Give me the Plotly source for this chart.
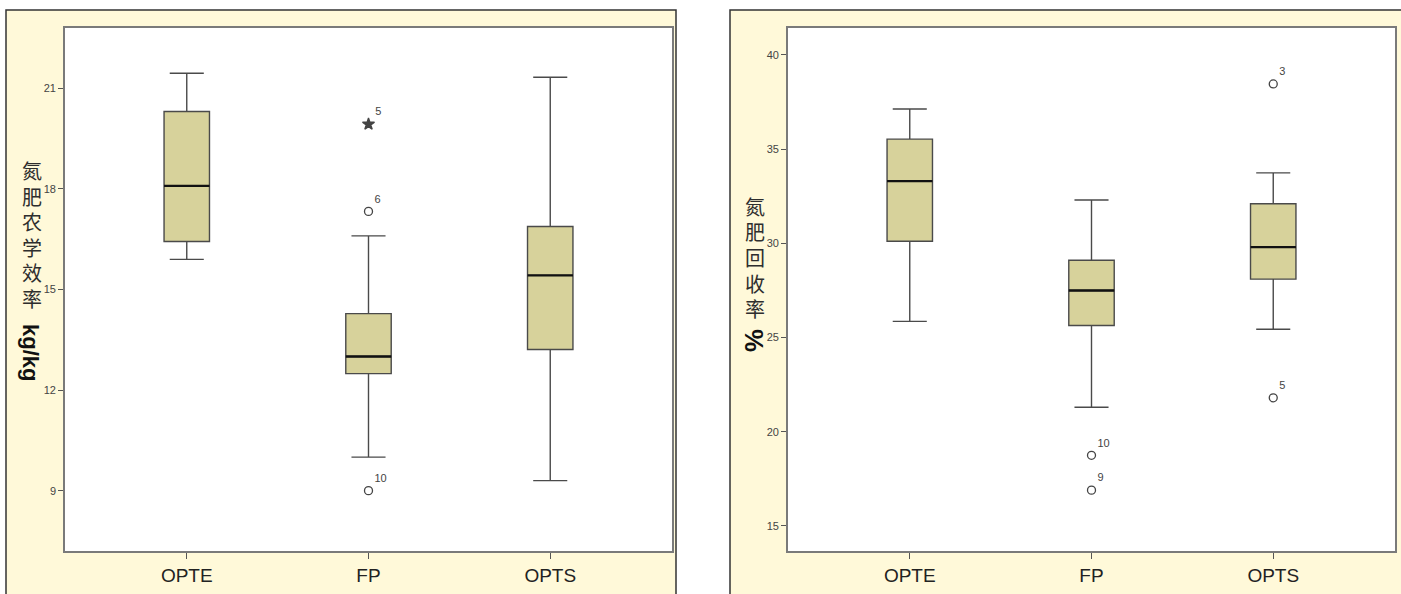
import plotly.graph_objects as go

W, H = 1401, 594

categories = ["OPTE", "FP", "OPTS"]

# Left chart: 氮肥农学效率 kg/kg
ae_lower = [15.9, 10.0, 9.3]
ae_q1 = [16.43, 12.49, 13.21]
ae_median = [18.09, 13.0, 15.42]
ae_q3 = [20.31, 14.28, 16.88]
ae_upper = [21.45, 16.6, 21.33]
ae_out_cat = [1, 1]
ae_out_val = [17.33, 9.0]
ae_out_lab = ["6", "10"]
ae_ext_cat = [1]
ae_ext_val = [19.93]
ae_ext_lab = ["5"]
ae_ticks = [9, 12, 15, 18, 21]
ae_title_cn = "氮肥农学效率"
ae_title_unit = "kg/kg"

# Right chart: 氮肥回收率 %
re_lower = [25.86, 21.3, 25.44]
re_q1 = [30.11, 25.64, 28.1]
re_median = [33.3, 27.5, 29.8]
re_q3 = [35.53, 29.1, 32.1]
re_upper = [37.13, 32.3, 33.74]
re_out_cat = [1, 1, 2, 2]
re_out_val = [18.75, 16.9, 38.46, 21.8]
re_out_lab = ["10", "9", "3", "5"]
re_ticks = [15, 20, 25, 30, 35, 40]
re_title_cn = "氮肥回收率"
re_title_unit = "%"

BOX_FILL = "#D7D29B"
BOX_LINE = "#4a4a4a"
BW = 0.25

fig = go.Figure()

def add_panel(xa, ya, lower, q1, med, q3, upper):
    xs = list(range(len(categories)))
    fig.add_trace(go.Box(
        x=xs, lowerfence=lower, q1=q1, median=med, q3=q3, upperfence=upper,
        fillcolor=BOX_FILL, line=dict(color=BOX_LINE, width=1.4),
        width=BW, whiskerwidth=0.75, boxpoints=False, showlegend=False,
        hoverinfo="skip", xaxis=xa, yaxis=ya,
    ))
    for i, m in enumerate(med):
        fig.add_trace(go.Scatter(
            x=[i - BW / 2, i + BW / 2], y=[m, m], mode="lines",
            line=dict(color="#111111", width=2.4), showlegend=False,
            hoverinfo="skip", xaxis=xa, yaxis=ya,
        ))

def add_points(xa, ya, cats, vals, labs, symbol):
    fig.add_trace(go.Scatter(
        x=cats, y=vals, mode="markers+text", text=labs,
        textposition="top right",
        textfont=dict(family="Liberation Sans, Arial", size=11, color="#444444"),
        marker=dict(symbol=symbol, size=8 if symbol == "circle-open" else 9,
                    color="#444444", line=dict(color="#444444", width=1.3)),
        showlegend=False, hoverinfo="skip", xaxis=xa, yaxis=ya,
    ))

add_panel("x", "y", ae_lower, ae_q1, ae_median, ae_q3, ae_upper)
add_points("x", "y", ae_out_cat, ae_out_val, ae_out_lab, "circle-open")
add_points("x", "y", ae_ext_cat, ae_ext_val, ae_ext_lab, "star")

add_panel("x2", "y2", re_lower, re_q1, re_median, re_q3, re_upper)
add_points("x2", "y2", re_out_cat, re_out_val, re_out_lab, "circle-open")

ydom = [1 - 551 / H, 1 - 28 / H]
xcommon = dict(
    tickmode="array", tickvals=[0, 1, 2], ticktext=categories,
    range=[-0.67, 2.67], showgrid=False, zeroline=False,
    showline=True, mirror=True, linecolor="#7a7a7a", linewidth=1.6,
    ticks="outside", ticklen=6, tickcolor="#555555",
    tickfont=dict(family="Liberation Sans, Arial", size=19, color="#222222"),
)
ycommon = dict(
    showgrid=False, zeroline=False,
    showline=True, mirror=True, linecolor="#7a7a7a", linewidth=1.6,
    ticks="outside", ticklen=5, tickcolor="#555555",
    tickfont=dict(family="Liberation Sans, Arial", size=11, color="#444444"),
    domain=ydom,
)

annotations = []
def vertical_title(cn, unit, xc, y_first, pitch, y_unit, unit_size):
    for k, ch in enumerate(cn):
        annotations.append(dict(
            xref="paper", yref="paper", x=xc / W, y=1 - (y_first + k * pitch) / H,
            xanchor="center", yanchor="middle", height=22,
            text=ch, showarrow=False,
            font=dict(family="Noto Sans CJK SC", size=20, color="#2e2e2e")))
    annotations.append(dict(
        xref="paper", yref="paper", x=(xc - 1) / W, y=1 - y_unit / H,
        xanchor="center", yanchor="middle",
        text="<b>" + unit + "</b>", textangle=90, showarrow=False,
        font=dict(family="Liberation Sans, Arial", size=unit_size, color="#111111")))

vertical_title(ae_title_cn, ae_title_unit, 32, 170, 25.6, 352, 22)
vertical_title(re_title_cn, re_title_unit, 755, 206, 25.5, 340, 26)

fig.update_layout(
    width=W, height=H,
    margin=dict(l=0, r=0, t=0, b=0),
    paper_bgcolor="white",
    plot_bgcolor="rgba(0,0,0,0)",
    xaxis=dict(domain=[65 / W, 672 / W], anchor="y", **xcommon),
    yaxis=dict(anchor="x", range=[7.2, 22.8], tickvals=ae_ticks, **ycommon),
    xaxis2=dict(domain=[788 / W, 1395 / W], anchor="y2", **xcommon),
    yaxis2=dict(anchor="x2", range=[13.67, 41.43], tickvals=re_ticks, **ycommon),
    shapes=[
        dict(type="rect", xref="paper", yref="paper", layer="below",
             x0=6 / W, x1=676 / W, y0=-0.02, y1=1 - 10 / H,
             fillcolor="#FFF9D9", line=dict(color="#333333", width=1.5)),
        dict(type="rect", xref="paper", yref="paper", layer="below",
             x0=730 / W, x1=1.02, y0=-0.02, y1=1 - 10 / H,
             fillcolor="#FFF9D9", line=dict(color="#333333", width=1.5)),
        dict(type="rect", xref="paper", yref="paper", layer="below",
             x0=65 / W, x1=672 / W, y0=ydom[0], y1=ydom[1],
             fillcolor="white", line=dict(width=0)),
        dict(type="rect", xref="paper", yref="paper", layer="below",
             x0=788 / W, x1=1395 / W, y0=ydom[0], y1=ydom[1],
             fillcolor="white", line=dict(width=0)),
    ],
    annotations=annotations,
)

fig.write_html(
    "out.html",
    config={"displayModeBar": False},
    post_script="document.body.style.margin='0';document.body.style.overflow='hidden';",
)
